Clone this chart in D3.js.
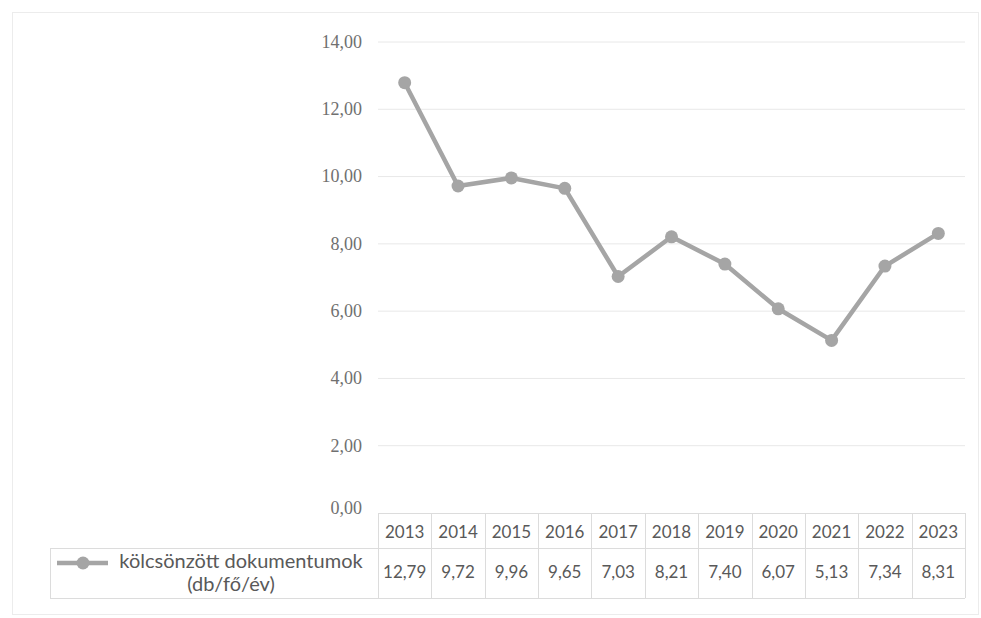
<!DOCTYPE html>
<html>
<head>
<meta charset="utf-8">
<script src="https://cdn.jsdelivr.net/npm/d3@7"></script>
<style>
  body { margin: 0; background: #fff; }
</style>
</head>
<body>
<div id="chartContainer"></div>
<script>
// data
const years = ["2013", "2014", "2015", "2016", "2017", "2018", "2019", "2020", "2021", "2022", "2023"];
const values = [12.79, 9.72, 9.96, 9.65, 7.03, 8.21, 7.40, 6.07, 5.13, 7.34, 8.31];
const yTicks = [0, 2, 4, 6, 8, 10, 12, 14];
const seriesName = ["kölcsönzött dokumentumok", "(db/fő/év)"];

const width = 981,
  height = 618,
  lineColor = "#a5a5a5",
  gridColor = "#e8e8e8",
  borderColor = "#dcdcdc",
  textColor = "#595959";

const fmt = (v) => v.toFixed(2).replace(".", ",");

const svg = d3
  .select("#chartContainer")
  .append("svg")
  .attr("width", width)
  .attr("height", height);

// outer frame
svg
  .append("rect")
  .attr("x", 12.5)
  .attr("y", 12.5)
  .attr("width", 966)
  .attr("height", 602)
  .attr("fill", "none")
  .attr("stroke", "#ececec");

// scales
const x = d3.scaleBand().domain(years).range([378, 965]);
const y = d3.scaleLinear().domain([0, 14]).range([513, 42]);

// gridlines
svg
  .append("g")
  .selectAll("line")
  .data(yTicks.slice(1))
  .enter()
  .append("line")
  .attr("x1", 378)
  .attr("x2", 965)
  .attr("y1", (d) => y(d))
  .attr("y2", (d) => y(d))
  .attr("stroke", gridColor)
  .attr("stroke-width", 1);

// y axis labels
const yAxis = svg
  .append("g")
  .attr("transform", "translate(362,0)")
  .call(d3.axisLeft(y).tickValues(yTicks).tickFormat(fmt).tickSize(0).tickPadding(0));
yAxis.select(".domain").remove();
yAxis
  .selectAll("text")
  .attr("font-family", "'Liberation Serif', serif")
  .attr("font-size", "18px")
  .attr("fill", "#707070")
  .attr("dy", "0.3em");
yAxis.selectAll("text").filter((d) => d === 0).attr("dy", "0em");

// line
const line = d3
  .line()
  .x((d, i) => x(years[i]) + x.bandwidth() / 2)
  .y((d) => y(d));

svg
  .append("path")
  .datum(values)
  .attr("d", line)
  .attr("fill", "none")
  .attr("stroke", lineColor)
  .attr("stroke-width", 4.5)
  .attr("stroke-linejoin", "round");

svg
  .append("g")
  .selectAll("circle")
  .data(values)
  .enter()
  .append("circle")
  .attr("cx", (d, i) => x(years[i]) + x.bandwidth() / 2)
  .attr("cy", (d) => y(d))
  .attr("r", 6.5)
  .attr("fill", lineColor);

// data table
const rowTop = 513,
  rowMid = 548,
  rowBottom = 598,
  legendLeft = 50;

const table = svg.append("g").attr("stroke", borderColor).attr("stroke-width", 1).attr("fill", "none");
table.append("line").attr("x1", x.range()[0]).attr("x2", x.range()[1]).attr("y1", rowTop + 0.5).attr("y2", rowTop + 0.5);
table.append("line").attr("x1", legendLeft).attr("x2", x.range()[1]).attr("y1", rowMid + 0.5).attr("y2", rowMid + 0.5);
table.append("line").attr("x1", legendLeft).attr("x2", x.range()[1]).attr("y1", rowBottom + 0.5).attr("y2", rowBottom + 0.5);
table.append("line").attr("x1", legendLeft + 0.5).attr("x2", legendLeft + 0.5).attr("y1", rowMid).attr("y2", rowBottom);
table
  .selectAll("line.col")
  .data(years.concat(["end"]))
  .enter()
  .append("line")
  .attr("class", "col")
  .attr("x1", (d) => Math.round(d === "end" ? x.range()[1] : x(d)) + 0.5)
  .attr("x2", (d) => Math.round(d === "end" ? x.range()[1] : x(d)) + 0.5)
  .attr("y1", rowTop)
  .attr("y2", rowBottom);

const cellText = (sel, size) =>
  sel
    .attr("font-family", "Lato, 'Open Sans', sans-serif")
    .attr("font-size", size)
    .attr("fill", textColor)
    .attr("text-anchor", "middle");

svg
  .append("g")
  .selectAll("text")
  .data(years)
  .enter()
  .append("text")
  .attr("x", (d) => x(d) + x.bandwidth() / 2)
  .attr("y", 538)
  .text((d) => d)
  .call(cellText, "17px");

svg
  .append("g")
  .selectAll("text")
  .data(values)
  .enter()
  .append("text")
  .attr("x", (d, i) => x(years[i]) + x.bandwidth() / 2)
  .attr("y", 578)
  .text((d) => fmt(d))
  .call(cellText, "17px");

// legend key in table
const legendKey = svg.append("g");
legendKey
  .append("line")
  .attr("x1", 57)
  .attr("x2", 108)
  .attr("y1", 563)
  .attr("y2", 563)
  .attr("stroke", lineColor)
  .attr("stroke-width", 4.5);
legendKey.append("circle").attr("cx", 83).attr("cy", 563).attr("r", 6.5).attr("fill", lineColor);

svg
  .append("g")
  .selectAll("text")
  .data(seriesName)
  .enter()
  .append("text")
  .attr("x", (d, i) => (i === 0 ? 241 : 231))
  .attr("y", (d, i) => 568 + i * 23)
  .text((d) => d)
  .call(cellText, "20px");
</script>
</body>
</html>
